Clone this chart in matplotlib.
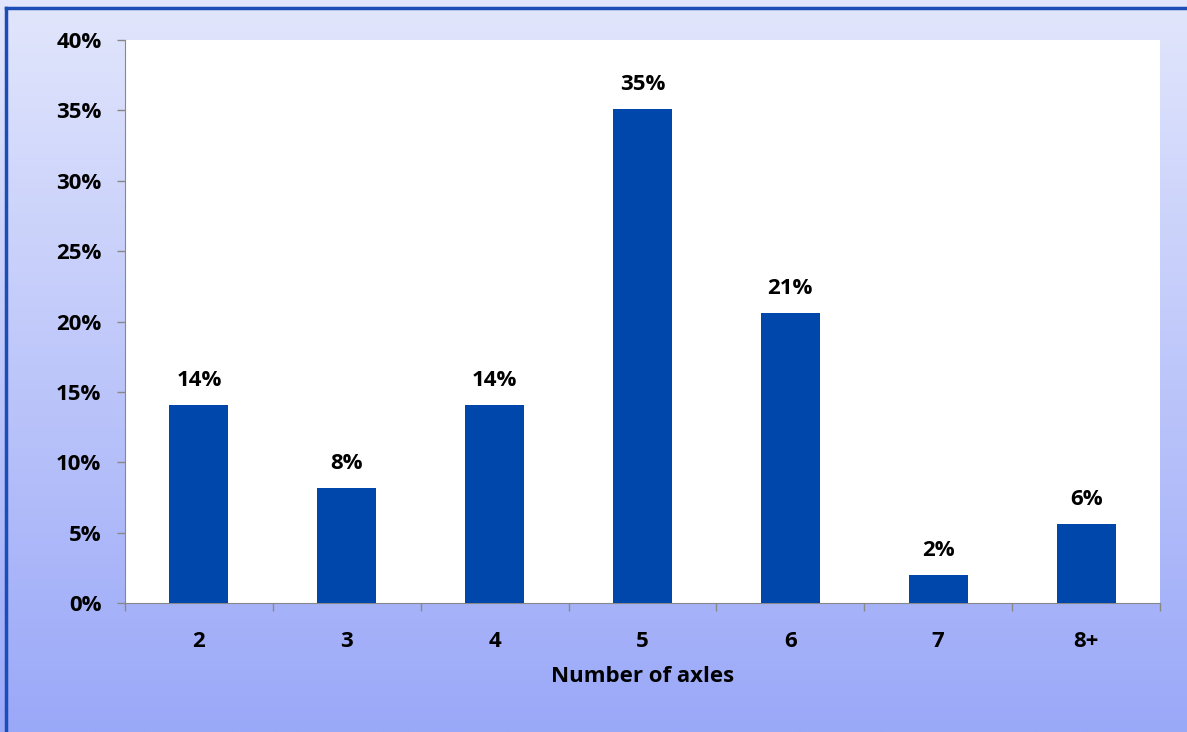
import numpy as np
import matplotlib.pyplot as plt
from matplotlib.lines import Line2D
from matplotlib.ticker import FuncFormatter

axles = ['2', '3', '4', '5', '6', '7', '8+']
share = [14.1, 8.2, 14.1, 35.1, 20.6, 2.0, 5.6]

plt.rcParams['font.family'] = ['Open Sans', 'DejaVu Sans']
plt.rcParams['font.weight'] = 'bold'

fig = plt.figure(figsize=(11.87, 7.32), dpi=100)

# gradient backdrop, light at the top going to periwinkle at the bottom
bg = fig.add_axes([0, 0, 1, 1], zorder=0)
top = np.array([226, 230, 252]) / 255
bot = np.array([154, 168, 248]) / 255
t = np.linspace(0, 1, 256)[:, None]
grad = (top * (1 - t) + bot * t)[:, None, :]
bg.imshow(grad, aspect='auto', extent=[0, 1, 0, 1])
bg.axis('off')

# frame: only top and left edges are inside the image
fx, fy = 6 / 1187, 1 - 8 / 732
fig.add_artist(Line2D([fx, 1.01], [fy, fy], transform=fig.transFigure,
                      color='#1A4DB5', linewidth=2.5, zorder=1))
fig.add_artist(Line2D([fx, fx], [-0.01, fy], transform=fig.transFigure,
                      color='#1A4DB5', linewidth=2.5, zorder=1))

ax = fig.add_axes([125 / 1187, 1 - 603 / 732, 1035 / 1187, 563 / 732], zorder=2)
x = np.arange(len(axles))
bars = ax.bar(x, share, width=0.4, color='#0047AB', zorder=3)

for b, v in zip(bars, share):
    ax.annotate(f'{v:.0f}%', (b.get_x() + b.get_width() / 2, v),
                xytext=(0, 10), textcoords='offset points',
                ha='center', va='bottom', fontsize=16, fontweight='bold')

ax.set_xlim(-0.5, len(axles) - 0.5)
ax.set_ylim(0, 40)
ax.set_yticks(range(0, 41, 5))
ax.yaxis.set_major_formatter(FuncFormatter(lambda v, p: f'{v:.0f}%'))
ax.set_xticks(x)
ax.set_xticklabels(axles)
ax.set_xticks(np.arange(-0.5, len(axles)), minor=True)

ax.tick_params(axis='x', which='major', length=0, pad=20, labelsize=16)
ax.tick_params(axis='x', which='minor', length=6, color='#888888', width=1)
ax.tick_params(axis='y', length=6, color='#888888', width=1, pad=11, labelsize=16)

ax.spines['top'].set_visible(False)
ax.spines['right'].set_visible(False)
ax.spines['left'].set_color('#888888')
ax.spines['bottom'].set_color('#888888')

ax.set_xlabel('Number of axles', fontsize=16, fontweight='bold', labelpad=10)

fig.savefig('out.png', dpi=100)
